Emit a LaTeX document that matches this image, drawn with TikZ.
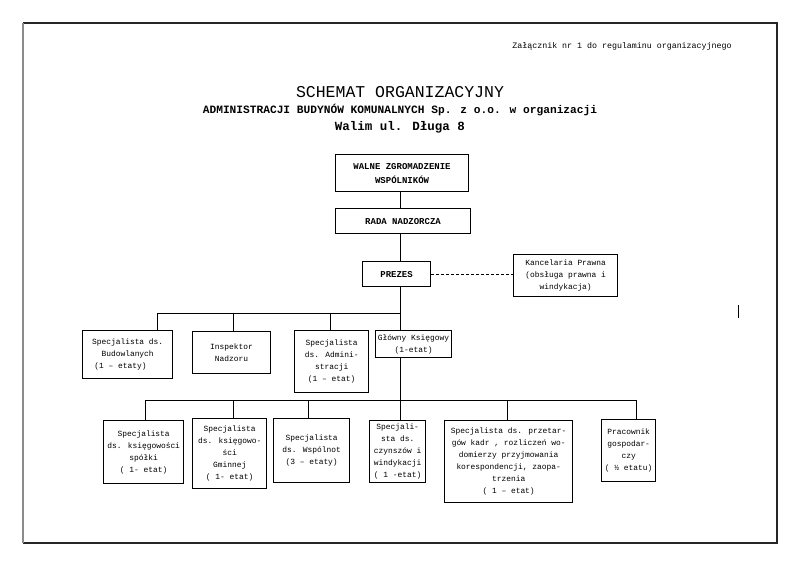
\documentclass[tikz,border=0pt]{standalone}
\usepackage{fontspec}
\setmainfont{Liberation Mono}
\usetikzlibrary{calc}
\tikzset{
  box/.style={draw, line width=1.3pt, align=center, inner sep=1pt, anchor=north west,
    font=\fontsize{7.9}{12}\selectfont},
  headbox/.style={box, line width=1.1pt, font=\fontsize{9}{14}\selectfont\bfseries},
  link/.style={line width=1pt},
  dashlink/.style={link, dash pattern=on 3pt off 2pt},
}

\begin{document}
\begin{tikzpicture}[x=1pt,y=-1pt]
\useasboundingbox (0,0) rectangle (800,566);
% ramka strony
\draw[line width=1.2pt, black!85] (23,23) -- (777,23) -- (777,543) -- (23,543);
\draw[line width=1.4pt, black!45] (23,23) -- (23,543);
\draw[line width=1pt] (738,305) -- (738,318);

% naglowek
\node[font=\fontsize{8.3}{10}\selectfont] (zal) at (622,46) {Załącznik nr 1 do regulaminu organizacyjnego};
\node[font=\fontsize{16.5}{20}\selectfont] (tytul) at (400,92) {SCHEMAT ORGANIZACYJNY};
\node[font=\fontsize{11.2}{14}\selectfont\bfseries] (podtytul) at (400,110) {ADMINISTRACJI BUDYNÓW KOMUNALNYCH Sp. z o.o. w organizacji};
\node[font=\fontsize{12.5}{15}\selectfont\bfseries] (adres) at (400,127) {Walim ul. Długa 8};

% zarzad
\node[headbox, minimum width=133, minimum height=37] (walne) at (335,154) {WALNE ZGROMADZENIE\\WSPÓLNIKÓW};
\node[headbox, minimum width=135, minimum height=25] (rada) at (335,208) {RADA NADZORCZA};
\node[headbox, minimum width=68, minimum height=25] (prezes) at (362,261) {PREZES};
\node[box, minimum width=104, minimum height=42] (kancel) at (513,254) {Kancelaria Prawna\\(obsługa prawna i\\windykacja)};

% pierwszy poziom
\node[box, minimum width=90, minimum height=48] (budowl) at (82,330) {Specjalista ds.\\Budowlanych\\(1 – etaty)\phantom{xxx}};
\node[box, line width=1.1pt, minimum width=78, minimum height=42] (inspektor) at (192,331) {Inspektor\\Nadzoru};
\node[box, minimum width=74, minimum height=62] (admin) at (294,330) {Specjalista\\ds. Admini-\\stracji\\(1 – etat)};
\node[box, line width=1.1pt, minimum width=76, minimum height=27] (glowny) at (375,330) {Główny Księgowy\\(1-etat)};

% drugi poziom
\node[box, minimum width=80, minimum height=63] (spolki) at (103,420) {Specjalista\\ds. księgowości\\spółki\\( 1- etat)};
\node[box, minimum width=74, minimum height=70] (gminna) at (192,418) {Specjalista\\ds. księgowo-\\ści\\Gminnej\\( 1- etat)};
\node[box, minimum width=76, minimum height=64] (wspolnoty) at (273,418) {Specjalista\\ds. Wspólnot\\(3 – etaty)};
\node[box, minimum width=56, minimum height=62] (czynsze) at (369,420) {Specjali-\\sta ds.\\czynszów i\\windykacji\\( 1 -etat)};
\node[box, minimum width=128, minimum height=82] (przetargi) at (444,420) {Specjalista ds. przetar-\\gów kadr , rozliczeń wo-\\domierzy przyjmowania\\korespondencji, zaopa-\\trzenia\\( 1 – etat)};
\node[box, minimum width=54, minimum height=62] (pracownik) at (601,419) {Pracownik\\gospodar-\\czy\\( ½ etatu)};

% polaczenia
\coordinate (szyna1) at (400,313);
\coordinate (szyna2) at (400,400);
\draw[link] (walne.south -| szyna1) -- (rada.north -| szyna1);
\draw[link] (rada.south -| szyna1) -- (prezes.north -| szyna1);
\draw[link] (prezes.south -| szyna1) -- (glowny.north -| szyna1);
\draw[link] (glowny.south -| szyna1) -- (szyna2);
\draw[dashlink] (prezes.east) -- (prezes.east -| kancel.west);

\coordinate (g1) at (157,313);
\coordinate (g2) at (233,313);
\coordinate (g3) at (330,313);
\draw[link] (g1) -- (szyna1);
\foreach \p/\n in {g1/budowl, g2/inspektor, g3/admin}
  \draw[link] (\p) -- (\p |- \n.north);

\coordinate (d1) at (145,400);
\coordinate (d2) at (233,400);
\coordinate (d3) at (308,400);
\coordinate (d4) at (400,400);
\coordinate (d5) at (507,400);
\coordinate (d6) at (636,400);
\draw[link] (d1) -- (d6);
\foreach \p/\n in {d1/spolki, d2/gminna, d3/wspolnoty, d4/czynsze, d5/przetargi, d6/pracownik}
  \draw[link] (\p) -- (\p |- \n.north);
\end{tikzpicture}
\end{document}
